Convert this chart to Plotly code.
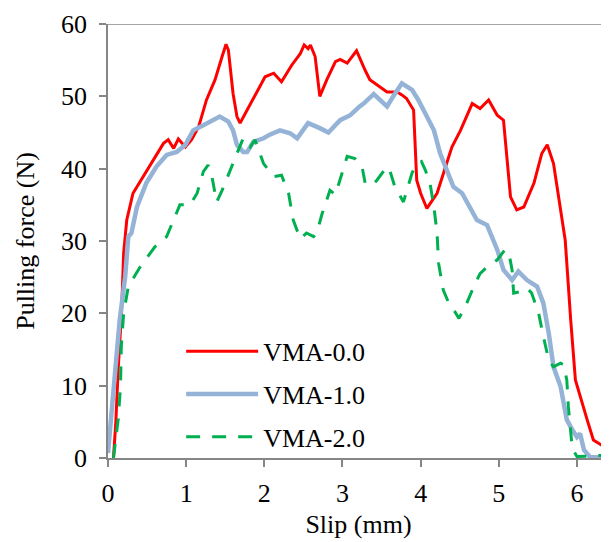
import plotly.graph_objects as go

# VMA-0.0 (red)
x0 = [0.0, 0.07, 0.10, 0.13, 0.175, 0.20, 0.24, 0.32, 0.45, 0.54, 0.62, 0.71, 0.77, 0.84, 0.90, 0.99, 1.07, 1.16,
      1.26, 1.37, 1.46, 1.51, 1.54, 1.60, 1.65, 1.69, 1.78, 1.90, 2.01, 2.12, 2.22, 2.35, 2.46, 2.51, 2.56, 2.59,
      2.65, 2.71, 2.80, 2.91, 2.97, 3.06, 3.18, 3.29, 3.35, 3.57, 3.70, 3.76, 3.82, 3.91, 3.95, 4.00, 4.08, 4.21,
      4.40, 4.51, 4.66, 4.76, 4.87, 4.98, 5.06, 5.15, 5.23, 5.32, 5.45, 5.55, 5.62, 5.70, 5.79, 5.85, 5.92, 5.98,
      6.13, 6.21, 6.34, 6.41]
y0 = [None, 0.0, 5.0, 12.2, 20.5, 28.3, 32.9, 36.6, 38.9, 40.5, 42.1, 43.5, 44.0, 42.8, 44.1, 43.0, 44.0, 45.8,
      49.5, 52.3, 55.5, 57.2, 56.4, 50.4, 47.2, 46.3, 48.1, 50.6, 52.7, 53.2, 52.0, 54.3, 55.9, 57.1, 56.6, 57.1,
      55.5, 50.0, 52.3, 54.8, 55.1, 54.6, 56.3, 53.6, 52.3, 50.6, 50.6, 50.2, 49.7, 48.1, 38.4, 36.6, 34.5, 36.6,
      43.0, 45.3, 49.0, 48.3, 49.5, 47.4, 46.7, 36.1, 34.3, 34.7, 38.0, 42.1, 43.3, 40.7, 34.7, 30.1, 19.1, 10.8,
      5.3, 2.5, 1.6, 1.6]

# VMA-1.0 (blue)
x1 = [0.0, 0.05, 0.09, 0.15, 0.22, 0.26, 0.30, 0.37, 0.49, 0.62, 0.75, 0.88, 0.99, 1.09, 1.22, 1.33, 1.43, 1.54,
      1.60, 1.65, 1.73, 1.78, 1.86, 1.99, 2.07, 2.20, 2.33, 2.42, 2.56, 2.71, 2.82, 2.97, 3.10, 3.22, 3.27, 3.40,
      3.48, 3.57, 3.65, 3.76, 3.89, 3.97, 4.08, 4.17, 4.25, 4.34, 4.42, 4.53, 4.64, 4.72, 4.85, 4.98, 5.06, 5.17,
      5.25, 5.36, 5.49, 5.57, 5.64, 5.70, 5.79, 5.87, 5.94, 6.00, 6.04, 6.09, 6.17, 6.41]
y1 = [0.7, 7.1, 13.1, 19.1, 25.1, 30.6, 31.1, 34.7, 38.0, 40.3, 41.9, 42.3, 43.3, 45.3, 46.0, 46.7, 47.2, 46.5,
      45.3, 43.3, 42.3, 42.3, 43.7, 44.2, 44.7, 45.3, 44.9, 44.2, 46.3, 45.6, 45.0, 46.7, 47.4, 48.6, 49.0, 50.3,
      49.5, 48.6, 50.0, 51.8, 50.9, 49.5, 47.2, 45.3, 42.1, 39.8, 37.5, 36.6, 34.3, 32.9, 32.2, 28.8, 26.0, 24.6,
      25.8, 24.6, 23.7, 21.4, 17.2, 12.6, 9.9, 5.3, 3.9, 2.9, 3.4, 1.1, 0.1, 0.1]

# VMA-2.0 (green)
x2 = [0.07, 0.13, 0.16, 0.17, 0.20, 0.26, 0.41, 0.60, 0.75, 0.92, 1.05, 1.14, 1.22, 1.28, 1.33, 1.39, 1.46, 1.56,
      1.65, 1.73, 1.82, 1.88, 1.99, 2.12, 2.22, 2.31, 2.37, 2.46, 2.54, 2.63, 2.67, 2.74, 2.84, 2.91, 2.97, 3.06,
      3.16, 3.25, 3.29, 3.38, 3.44, 3.57, 3.61, 3.67, 3.78, 3.82, 3.89, 3.95, 4.01, 4.06, 4.12, 4.17, 4.21, 4.23,
      4.29, 4.38, 4.44, 4.49, 4.57, 4.68, 4.76, 4.85, 4.98, 5.08, 5.13, 5.17, 5.19, 5.28, 5.36, 5.42, 5.51, 5.57,
      5.64, 5.70, 5.79, 5.83, 5.87, 5.89, 5.92, 5.94, 6.00, 6.41]
y2 = [0.0, 5.3, 9.9, 15.4, 20.0, 23.7, 26.4, 29.2, 30.6, 35.0, 35.0, 36.6, 39.6, 40.5, 38.9, 35.4, 37.0, 39.8,
      42.1, 44.2, 43.0, 44.0, 40.7, 38.9, 39.1, 36.6, 32.9, 30.3, 31.1, 30.6, 31.1, 33.8, 37.0, 36.4, 38.4, 41.7,
      41.4, 40.3, 38.0, 37.7, 38.4, 40.3, 39.6, 37.5, 35.4, 37.0, 39.4, 40.7, 41.0, 39.8, 38.0, 34.7, 31.1, 26.9,
      23.2, 20.9, 20.2, 19.3, 20.9, 23.7, 25.5, 26.4, 27.4, 28.8, 28.3, 26.0, 22.8, 23.0, 23.5, 22.8, 20.0, 16.8,
      13.5, 12.6, 13.1, 12.9, 10.8, 7.1, 2.9, 1.3, 0.2, 0.4]

names = ["VMA-0.0", "VMA-1.0", "VMA-2.0"]
x_ticks = [0, 1, 2, 3, 4, 5, 6]
y_ticks = [0, 10, 20, 30, 40, 50, 60]

FONT = "Liberation Serif"
FS = 26
fig = go.Figure()
fig.add_trace(go.Scatter(x=x0, y=y0, mode="lines", name=names[0], legendgroup="a",
                         line=dict(color="#FF0000", width=3)))
fig.add_trace(go.Scatter(x=x1, y=y1, mode="lines", name=names[1], legendgroup="b",
                         line=dict(color="#95B3D7", width=4.5)))
fig.add_trace(go.Scatter(x=x2, y=y2, mode="lines", name=names[2], legendgroup="c",
                         line=dict(color="#00B050", width=3, dash="14px,12px")))

axis_common = dict(showline=True, linecolor="#868686", linewidth=1.5, ticks="outside",
                   ticklen=7, tickcolor="#868686", tickwidth=1.5, showgrid=False, zeroline=False,
                   tickfont=dict(family=FONT, size=FS, color="black"))
fig.update_xaxes(range=[0, 6.41], tickvals=x_ticks, ticklabelstandoff=4,
                 title=dict(text="Slip (mm)", font=dict(family=FONT, size=FS, color="black"), standoff=8),
                 **axis_common)
fig.update_yaxes(range=[0, 60], tickvals=y_ticks, ticklabelstandoff=7,
                 title=dict(text="Pulling force (N)", font=dict(family=FONT, size=FS, color="black"), standoff=19),
                 **axis_common)
fig.add_shape(type="line", xref="paper", yref="y", x0=0, x1=1, y0=60, y1=60,
              line=dict(color="#868686", width=1.5))

fig.update_layout(
    width=601, height=534,
    margin=dict(l=100, r=0, t=16, b=84),
    plot_bgcolor="white", paper_bgcolor="white",
    font=dict(family=FONT, size=FS, color="black"),
    legend=dict(x=0.146, y=0.30, xanchor="left", yanchor="top", bgcolor="rgba(0,0,0,0)",
                itemwidth=72, tracegroupgap=6, traceorder="grouped",
                font=dict(family=FONT, size=FS, color="black")),
)
fig.write_html("out.html")
